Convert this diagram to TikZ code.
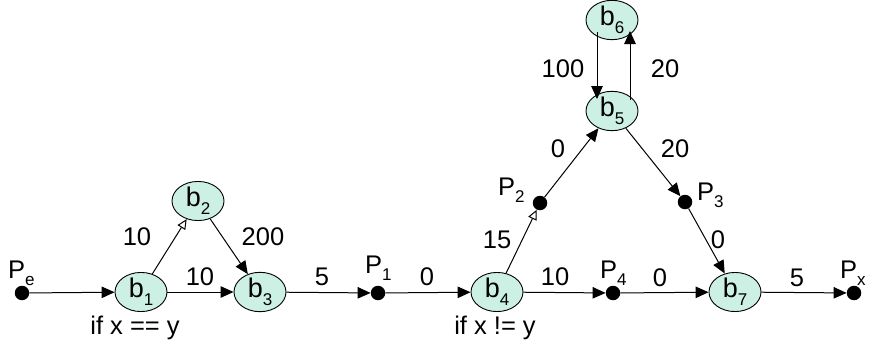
\documentclass[tikz,border=0pt]{standalone}
\usepackage{fontspec}
\setmainfont{Liberation Sans}
\usetikzlibrary{arrows.meta,shapes.geometric}
\definecolor{mint}{RGB}{204,240,228}
\newcommand{\lsub}[1]{\raisebox{-0.3em}{\fontsize{17}{17}\selectfont #1}}
\begin{document}
\begin{tikzpicture}[x=1pt,y=-1pt,
 bb/.style={ellipse,draw,line width=0.9pt,fill=mint,minimum width=52pt,minimum height=31pt,inner sep=0pt,font=\fontsize{27}{30}\selectfont},
 pdot/.style={circle,fill=black,minimum size=14.5pt,inner sep=0pt},
 arr/.style={line width=1pt,-{Triangle[length=13pt,width=11.5pt]}},
 oarr/.style={line width=1pt,-{Triangle[open,length=10pt,width=9pt,fill=white]}},
 lbl/.style={font=\fontsize{25.5}{30}\selectfont,inner sep=0pt,anchor=base},
 plbl/.style={lbl,anchor=base west}]
\useasboundingbox (0,0) rectangle (873,348);
% nodes
\node[pdot] (Pe) at (22,293) {};
\node[bb] (b1) at (141,292) {b\lsub{1}};
\node[bb] (b2) at (198,201) {b\lsub{2}};
\node[bb] (b3) at (260,292) {b\lsub{3}};
\node[pdot] (P1) at (378,293) {};
\node[bb] (b4) at (497,292) {b\lsub{4}};
\node[pdot] (P2) at (540,203) {};
\node[bb] (b5) at (612,111) {b\lsub{5}};
\node[bb] (b6) at (612,20) {b\lsub{6}};
\node[pdot] (P3) at (685,202) {};
\node[pdot] (P4) at (613,293) {};
\node[bb] (b7) at (735,292) {b\lsub{7}};
\node[pdot] (Px) at (854,293) {};
% edges
\draw[arr] (Pe) -- (b1);
\draw[oarr] (b1) -- (b2);
\draw[arr] (b2) -- (b3);
\draw[arr] (b1) -- (b3);
\draw[arr] (b3) -- (P1);
\draw[arr] (P1) -- (b4);
\draw[oarr] (b4) -- (P2);
\draw[arr] (P2) -- (b5);
\draw[arr] ([xshift=-15pt,yshift=-12pt]b6.center) -- ([xshift=-15pt,yshift=12pt]b5.center);
\draw[arr] ([xshift=18pt,yshift=11pt]b5.center) -- ([xshift=18pt,yshift=-11pt]b6.center);
\draw[arr] (b5) -- (P3);
\draw[arr] (P3) -- (b7);
\draw[arr] (b4) -- (P4);
\draw[arr] (P4) -- (b7);
\draw[arr] (b7) -- (Px);
% labels
\node[plbl] (lPe) at (8,278) {P\lsub{e}};
\node[lbl] (l12) at (137,245) {10};
\node[lbl] (l23) at (263,245) {200};
\node[lbl] (l13) at (200,285) {10};
\node[lbl] (lif1) at (135,334) {if x == y};
\node[lbl] (l3P) at (322,285) {5};
\node[plbl] (lP1) at (365,273) {P\lsub{1}};
\node[lbl] (lP1b4) at (427,285) {0};
\node[lbl] (l4P2) at (497,248) {15};
\node[lbl] (l4P4) at (555,285) {10};
\node[lbl] (lif2) at (495,334) {if x != y};
\node[plbl] (lP2) at (498,195) {P\lsub{2}};
\node[lbl] (l65) at (563,77) {100};
\node[lbl] (l56) at (665,77) {20};
\node[lbl] (lP25) at (558,157) {0};
\node[lbl] (l5P3) at (675,157) {20};
\node[plbl] (lP3) at (697,200) {P\lsub{3}};
\node[lbl] (lP37) at (718,248) {0};
\node[plbl] (lP4) at (600,278) {P\lsub{4}};
\node[lbl] (lP47) at (660,286) {0};
\node[lbl] (l7x) at (797,286) {5};
\node[plbl] (lPx) at (840,278) {P\lsub{x}};
\end{tikzpicture}
\end{document}
